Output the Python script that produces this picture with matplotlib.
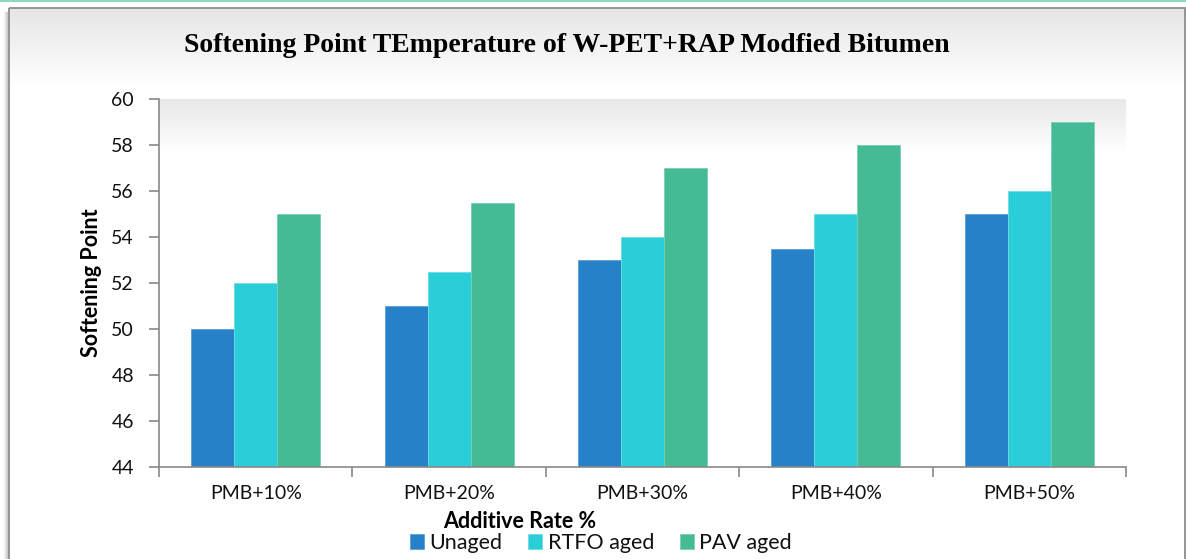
import numpy as np
import matplotlib
matplotlib.use("Agg")
import matplotlib.pyplot as plt
from matplotlib.patches import Rectangle

categories = ["PMB+10%", "PMB+20%", "PMB+30%", "PMB+40%", "PMB+50%"]
series_names = ["Unaged", "RTFO aged", "PAV aged"]
unaged = [50, 51, 53, 53.5, 55]
rtfo = [52, 52.5, 54, 55, 56]
pav = [55, 55.5, 57, 58, 59]
yticks = [44, 46, 48, 50, 52, 54, 56, 58, 60]

colors = ["#2681C8", "#29CED8", "#44BB96"]
edges = ["#5A9FD6", "#6BDDE4", "#79D0B2"]

W, H = 1186, 559
fig = plt.figure(figsize=(W / 100, H / 100), dpi=100)
fig.patch.set_facecolor("white")

# background / frame axes in pixel coordinates
bg = fig.add_axes([0, 0, 1, 1], zorder=-10)
bg.set_xlim(0, W)
bg.set_ylim(H, 0)
bg.axis("off")
grad = np.linspace(0, 1, 100).reshape(-1, 1)
cmap_bg = matplotlib.colors.LinearSegmentedColormap.from_list("g", ["#e6e6e6", "#ffffff"])
bg.imshow(grad, extent=[9, 1185, 85, 9], cmap=cmap_bg, aspect="auto", zorder=0)
# shadow at left
for i, a in enumerate([0.08, 0.15, 0.25, 0.4]):
    bg.add_line(plt.Line2D([4 + i, 4 + i], [12, H], color="#888888", alpha=a, lw=1))
bg.add_patch(Rectangle((9, 8), 1176, H, fill=False, edgecolor="#8c8c8c", lw=1.3, zorder=5))
bg.add_line(plt.Line2D([0, W], [0.5, 0.5], color="#8fd8c0", lw=1.5, zorder=6))

# main axes
L, R, T, B = 159, 1126, 99, 467
ax = fig.add_axes([L / W, (H - B) / H, (R - L) / W, (B - T) / H])
ax.set_facecolor("none")
ax.set_xlim(-0.5, len(categories) - 0.5)
ax.set_ylim(44, 60)

cmap_ax = matplotlib.colors.LinearSegmentedColormap.from_list("a", ["#ffffff", "#e8e8e8"])
ax.imshow(grad, extent=[-0.5, len(categories) - 0.5, 57.7, 60], cmap=cmap_ax,
          aspect="auto", zorder=0, origin="lower")

x = np.arange(len(categories))
bw = 0.222
for i, (vals, name) in enumerate(zip([unaged, rtfo, pav], series_names)):
    ax.bar(x + (i - 1) * bw, np.array(vals) - 44, bottom=44, width=bw, color=colors[i],
           edgecolor=edges[i], linewidth=0.6, label=name, zorder=2)

ax.set_yticks(yticks)
ax.set_yticklabels([str(t) for t in yticks])
ax.set_xticks(x)
ax.set_xticklabels(categories)
ax.set_xticks(np.arange(-0.5, len(categories)), minor=True)
ax.tick_params(axis="x", which="major", length=0, pad=13)
ax.tick_params(axis="x", which="minor", length=7, color="#898989", width=1.2)
ax.tick_params(axis="y", length=7, color="#898989", width=1.2, pad=11)
for lab in ax.get_xticklabels() + ax.get_yticklabels():
    lab.set_fontfamily("Lato")
    lab.set_fontsize(14)
    lab.set_color("#111111")
for s in ["top", "right"]:
    ax.spines[s].set_visible(False)
for s in ["left", "bottom"]:
    ax.spines[s].set_color("#898989")
    ax.spines[s].set_linewidth(1.2)
    ax.spines[s].set_zorder(3)

ax.set_ylabel("Softening Point", fontfamily="Lato", fontweight="bold", fontsize=15.5)
ax.yaxis.set_label_coords((91 - L) / (R - L), (B - 283) / (B - T))
ax.set_xlabel("Additive Rate %", fontfamily="Lato", fontweight="bold", fontsize=15.5)
ax.xaxis.set_label_coords((520 - L) / (R - L), -(521 - B) / (B - T))
ax.xaxis.label.set_va("center")
ax.yaxis.label.set_va("center")

fig.text(567 / W, 1 - 45 / H, "Softening Point TEmperature of W-PET+RAP Modfied Bitumen",
         ha="center", va="center", fontfamily="Liberation Serif", fontweight="bold",
         fontsize=20)

leg = fig.legend(loc="center", bbox_to_anchor=(601 / W, 1 - 543 / H), ncol=3, frameon=False,
                 prop={"family": "Lato", "size": 15.5}, handlelength=0.65, handleheight=0.65,
                 handletextpad=0.25, columnspacing=1.2, borderpad=0)
for t in leg.get_texts():
    t.set_color("#111111")

fig.savefig("out.png", dpi=100)
